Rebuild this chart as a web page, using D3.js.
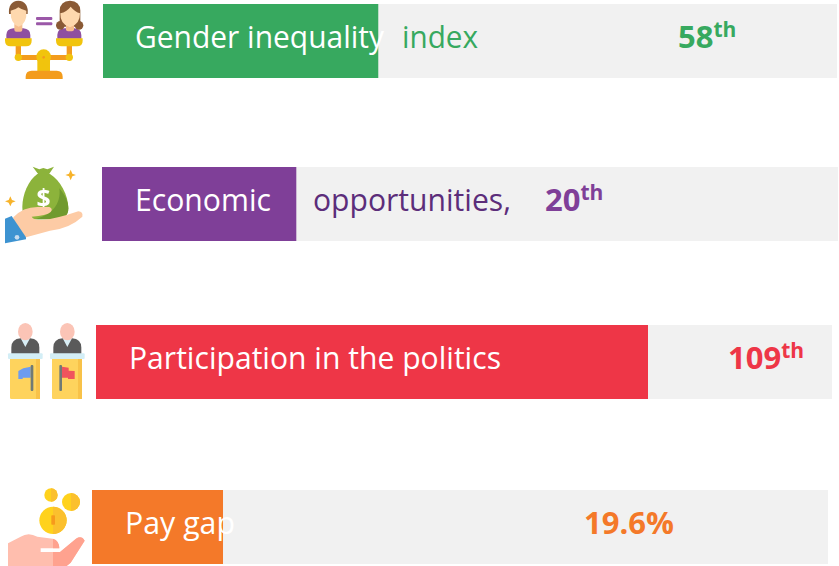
<!DOCTYPE html>
<html>
<head>
<meta charset="utf-8">
<script src="https://cdn.jsdelivr.net/npm/d3@7"></script>
<style>
html, body { margin: 0; padding: 0; background: #fff; }
svg { display: block; }
text { font-family: "Open Sans", "Noto Sans", sans-serif; }
</style>
</head>
<body>
<div id="chart"></div>
<script>
"use strict";

// data
const labelsInner = ["Gender inequality", "Economic", "Participation in the politics", "Pay gap"];
const labelsOuter = ["index", "opportunities,", "", ""];
const shares = [37.4, 26.4, 75, 17.8];
const values = ["58", "20", "109", "19.6%"];
const suffixes = ["th", "th", "th", ""];
const colors = ["#37a95f", "#7f3f98", "#ee3647", "#f47929"];
const outerColors = ["#37a95f", "#5c2d7a", "#ee3647", "#f47929"];

// setting
const width = 839, height = 566;
const setting = {
    barWidth: 736,
    trackInset: [2, 0, 0, 0],
    barHeight: 74,
    rowX: [103, 102, 96, 92],
    rowY: [4, 167, 325, 490],
    innerX: [135, 135, 129, 125],
    innerLen: [249, 136, 372, 110],
    outerX: [402, 313, 0, 0],
    outerLen: [76, 198, 0, 0],
    valueX: [678, 545, 728, 584],
    iconY: [0, 160, 315, 480]
};

let chart = d3.select("#chart").append("svg")
    .attr("width", width)
    .attr("height", height);

// slight softening, the icons in the reference are scaled up bitmaps
chart.append("defs").append("filter")
    .attr("id", "soft")
    .append("feGaussianBlur")
    .attr("stdDeviation", 1.2);

// scale for bars
let scaleX = d3.scaleLinear().domain([0, 100]).range([0, setting.barWidth]);

let rows = chart.selectAll("g.row")
    .data(labelsInner)
    .enter()
    .append("g")
    .attr("class", "row")
    .attr("transform", (d, i) => `translate(${setting.rowX[i]}, ${setting.rowY[i]})`);

// track + fill
rows.append("rect")
    .attr("width", (d, i) => scaleX(100) - setting.trackInset[i])
    .attr("height", setting.barHeight)
    .attr("fill", "#f1f1f1");

rows.append("rect")
    .attr("width", (d, i) => scaleX(shares[i]))
    .attr("height", setting.barHeight)
    .attr("fill", (d, i) => colors[i]);

// labels
rows.append("text")
    .attr("x", (d, i) => setting.innerX[i] - setting.rowX[i])
    .attr("y", 44)
    .attr("font-size", 31)
    .attr("fill", "#fff")
    .attr("textLength", (d, i) => setting.innerLen[i])
    .attr("lengthAdjust", "spacingAndGlyphs")
    .text(d => d);

rows.filter((d, i) => labelsOuter[i] != "")
    .append("text")
    .attr("x", d => setting.outerX[labelsInner.indexOf(d)] - setting.rowX[labelsInner.indexOf(d)])
    .attr("y", 44)
    .attr("font-size", 31)
    .attr("fill", d => outerColors[labelsInner.indexOf(d)])
    .attr("textLength", d => setting.outerLen[labelsInner.indexOf(d)])
    .attr("lengthAdjust", "spacingAndGlyphs")
    .text(d => labelsOuter[labelsInner.indexOf(d)]);

// values with the superscript suffix
let valueText = rows.append("text")
    .attr("x", (d, i) => setting.valueX[i] - setting.rowX[i])
    .attr("y", 44)
    .attr("font-size", 31)
    .attr("font-weight", 700)
    .attr("fill", (d, i) => colors[i]);

valueText.append("tspan").text((d, i) => values[i]);
valueText.append("tspan")
    .attr("dy", -11)
    .attr("font-size", 21)
    .text((d, i) => suffixes[i]);

// icons, drawn in 3x units of the crop so the shapes stay readable
function icon(i) {
    return chart.append("g")
        .attr("class", "icon")
        .attr("filter", "url(#soft)")
        .attr("transform", `translate(0, ${setting.iconY[i]}) scale(${1 / 3})`);
}
function rect(g, x, y, w, h, fill, r) {
    g.append("rect").attr("x", x).attr("y", y).attr("width", w).attr("height", h).attr("rx", r || 0).attr("fill", fill);
}
function circle(g, cx, cy, r, fill) {
    g.append("circle").attr("cx", cx).attr("cy", cy).attr("r", r).attr("fill", fill);
}
function ellipse(g, cx, cy, rx, ry, fill) {
    g.append("ellipse").attr("cx", cx).attr("cy", cy).attr("rx", rx).attr("ry", ry).attr("fill", fill);
}
function path(g, d, fill) {
    g.append("path").attr("d", d).attr("fill", fill);
}

// scale icon
let ic = icon(0);
rect(ic, 108, 51, 49, 9, "#9b59a8", 3);
rect(ic, 108, 67, 49, 9, "#9b59a8", 3);
rect(ic, 47, 135, 16, 35, "#f39c1f");
rect(ic, 200, 135, 16, 35, "#f39c1f");
rect(ic, 55, 165, 155, 15, "#f39c1f");
circle(ic, 55, 172, 11, "#f1c40f");
circle(ic, 208, 172, 11, "#f1c40f");
rect(ic, 112, 170, 38, 45, "#f1c40f");
circle(ic, 131, 170, 22, "#f1c40f");
circle(ic, 131, 172, 4, "#f39c1f");
path(ic, "M77 237V230Q77 212 95 212H170Q188 212 188 230V237Z", "#f39c1f");
path(ic, "M19 116V105Q19 87 40 85H70Q91 87 91 105V116Z", "#8e4fa0");
path(ic, "M172 116V105Q172 87 193 85H223Q244 87 244 105V116Z", "#8e4fa0");
path(ic, "M15 115H95V122Q95 139 78 139H32Q15 139 15 122Z", "#f1c40f");
path(ic, "M168 115H248V122Q248 139 231 139H185Q168 139 168 122Z", "#f1c40f");
rect(ic, 43, 68, 24, 27, "#f6bd8e", 6);
path(ic, "M27 42Q24 4 55 2Q86 4 83 42Z", "#8a5a35");
path(ic, "M32 32Q46 30 55 22Q66 30 79 32Q82 70 56 80Q30 70 32 32Z", "#fed8ae");
circle(ic, 181, 76, 13, "#8a5a35");
circle(ic, 237, 76, 13, "#8a5a35");
path(ic, "M179 80V32Q180 3 210 2Q240 3 241 32V80Z", "#8a5a35");
rect(ic, 198, 68, 24, 26, "#f6bd8e", 6);
path(ic, "M181 40Q200 36 212 20Q225 36 240 40Q240 74 210 82Q180 74 181 40Z", "#fed8ae");

// money icon
ic = icon(1);
path(ic, "M98 20L118 28L130 24L142 28L162 20L146 44H116Z", "#8cb33a");
path(ic, "M112 42H150C180 60 205 105 205 145C205 168 190 178 170 178H92C76 178 67 165 67 140C67 105 85 60 112 42Z", "#8cb33a");
path(ic, "M178 85C195 105 205 125 205 145C205 168 190 178 170 178H100C150 170 185 135 178 85Z", "#6f9a2d");
ic.append("text")
    .attr("x", 131)
    .attr("y", 142)
    .attr("text-anchor", "middle")
    .attr("font-size", 74)
    .attr("font-weight", 700)
    .attr("fill", "#fff")
    .text("$");
path(ic, "M212 29L217 41L228 45L217 49L212 61L207 49L196 45L207 41Z", "#f7b32b");
path(ic, "M31 109L36 120L47 124L36 128L31 139L26 128L15 124L26 120Z", "#f7b32b");
path(ic, "M40 172Q70 140 115 141H148Q160 146 152 156Q140 167 95 170Q100 180 125 180Q165 178 235 154Q250 155 247 170Q210 205 150 212L70 234H40Z", "#fdcba5");
path(ic, "M15 176L35 168L78 232V238L15 250Z", "#3d93d1");
circle(ic, 51, 232, 7, "#c7dcef");

// podium icon
ic = icon(2);
[0, 126].forEach(dx => {
    let p = ic.append("g").attr("transform", `translate(${dx}, 0)`);
    path(p, "M34 118V98Q34 72 62 70H90Q118 72 118 98V118Z", "#5a5a5a");
    path(p, "M62 70H90L76 96Z", "#d8eef5");
    ellipse(p, 76, 50, 22, 26, "#fbc4b6");
    rect(p, 30, 126, 90, 126, "#fed35d", 4);
    rect(p, 108, 126, 12, 126, "#f8c24a");
    rect(p, 24, 115, 104, 17, "#d3eef6", 3);
});
path(ic, "M55 168L70 160L92 155V188H68V192H55Z", "#6d9cf0");
rect(ic, 92, 150, 8, 78, "#6f7a74", 3);
path(ic, "M186 155L206 158V167L224 168V192H204V188H186Z", "#f0525d");
rect(ic, 178, 150, 8, 78, "#6f7a74", 3);

// coins icon
ic = icon(3);
circle(ic, 153, 45, 20, "#ffd21f");
path(ic, "M153 25A20 20 0 0 1 153 65Z", "#fbc02d");
circle(ic, 213, 66, 27, "#ffd21f");
path(ic, "M213 39A27 27 0 0 1 213 93Z", "#fbc02d");
circle(ic, 159, 121, 41, "#ffd21f");
path(ic, "M159 80A41 41 0 0 1 159 162Z", "#fbc02d");
rect(ic, 154, 106, 11, 28, "#f79a1e", 2);
path(ic, "M24 190L62 170Q85 155 112 170L158 176Q178 182 178 205H122V216H180L228 176Q245 165 254 182L212 248L200 258H24Z", "#ffbeae");
path(ic, "M159 176Q178 182 178 205H159ZM159 216H180L228 176Q245 165 254 182L212 248L200 258H159Z", "#ffa28f");
</script>
</body>
</html>
